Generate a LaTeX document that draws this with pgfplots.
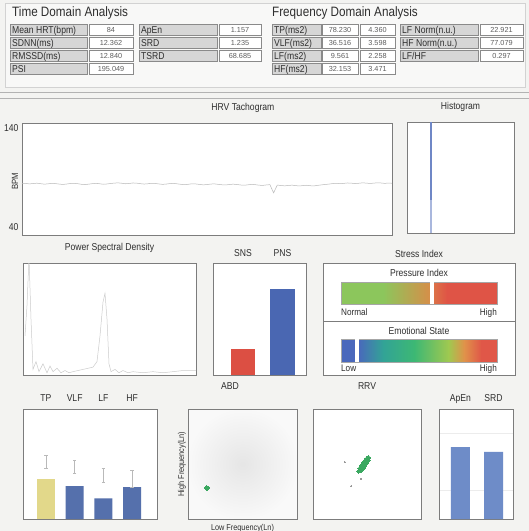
\documentclass[border=0pt]{standalone}
\usepackage{fontspec}
\setmainfont{Liberation Sans}
\newfontfamily\condfont{Liberation Sans}[FakeStretch=0.86]
\usepackage{pgfplots}
\pgfplotsset{compat=1.18}

\definecolor{bgc}{HTML}{F3F3F1}
\definecolor{panel}{HTML}{F8F8F7}
\definecolor{cellgray}{HTML}{D6D6D6}
\definecolor{cellborder}{HTML}{8A8A8A}
\definecolor{axisgray}{HTML}{7C7C7C}
\definecolor{txt}{HTML}{2E2E2E}
\definecolor{valtxt}{HTML}{5E5E5E}
\definecolor{snsred}{HTML}{DC4F43}
\definecolor{pnsblue}{HTML}{4A67B2}
\definecolor{barblue}{HTML}{5570AC}
\definecolor{baryellow}{HTML}{E2D88A}
\definecolor{lightblue}{HTML}{6E8CC8}
\definecolor{histblue}{HTML}{6F87C6}
\definecolor{dotgreen}{HTML}{3AA860}
\definecolor{pgreen}{HTML}{8CC65C}
\definecolor{porange}{HTML}{D98C48}
\definecolor{pred}{HTML}{DF5446}
\definecolor{eblue}{HTML}{4A68BC}
\definecolor{eteal}{HTML}{32A396}
\definecolor{egreen}{HTML}{3DB874}
\definecolor{eyg}{HTML}{A0C850}
\definecolor{eorange}{HTML}{E0924A}
\definecolor{ered}{HTML}{E05748}

\newcommand{\labfont}{\condfont\fontsize{10}{12}\selectfont}
\newcommand{\valfont}{\fontsize{7.3}{9}\selectfont}
\newcommand{\titfont}{\condfont\fontsize{10}{12}\selectfont}
\newcommand{\bigfont}{\condfont\fontsize{13.6}{15}\selectfont}
\newcommand{\smfont}{\condfont\fontsize{9.5}{11}\selectfont}

\newcommand{\lab}[5]{\draw[cellborder, fill=cellgray, line width=0.6pt] (#1,#2) rectangle (#3,#4);
 \node[anchor=base west, inner sep=0pt, font=\labfont, text=txt] at ({#1+2},{(#2+#4)/2+3.5}) {#5};}
\newcommand{\val}[5]{\draw[cellborder, fill=white, line width=0.6pt] (#1,#2) rectangle (#3,#4);
 \node[anchor=base, inner sep=0pt, font=\valfont, text=valtxt] at ({(#1+#3)/2},{(#2+#4)/2+2.6}) {#5};}

\pgfplotsset{
 panel/.style={scale only axis, anchor=north west,
   axis line style={draw=axisgray, line width=0.6pt},
   xtick=\empty, ytick=\empty, major tick length=0pt,
   axis background/.style={fill=white},
   title style={font=\titfont, text=txt, anchor=base, at={(0.5,1)}, yshift=6.4pt, inner sep=0pt},
   ticklabel style={font=\titfont, text=txt},
   /pgf/number format/assume math mode=true},
}

\begin{document}
\begin{tikzpicture}[x=1pt,y=-1pt]
\useasboundingbox (0,0) rectangle (529,531);
\fill[bgc] (0,0) rectangle (529,531);
% top panel
\draw[gray!35, fill=panel] (5,3) rectangle (525,87);
\draw[gray!60, line width=0.6pt] (0,92) -- (529,92);
\draw[gray!60, line width=0.6pt] (0,98) -- (529,98);

\node[anchor=base west, inner sep=0pt, font=\bigfont, text=txt] at (12,16) {Time Domain Analysis};
\node[anchor=base west, inner sep=0pt, font=\bigfont, text=txt] at (272,16) {Frequency Domain Analysis};

% time domain table
\lab{10}{24}{87}{35}{Mean HRT(bpm)} \val{89}{24}{133}{35}{84}
\lab{10}{37}{87}{48}{SDNN(ms)} \val{89}{37}{133}{48}{12.362}
\lab{10}{50}{87}{61}{RMSSD(ms)} \val{89}{50}{133}{61}{12.840}
\lab{10}{63}{87}{74}{PSI} \val{89}{63}{133}{74}{195.049}
\lab{139}{24}{217}{35}{ApEn} \val{219}{24}{261}{35}{1.157}
\lab{139}{37}{217}{48}{SRD} \val{219}{37}{261}{48}{1.235}
\lab{139}{50}{217}{61}{TSRD} \val{219}{50}{261}{61}{68.685}
% frequency domain table
\lab{272}{24}{321}{35}{TP(ms2)} \val{322}{24}{358}{35}{78.230} \val{360}{24}{395}{35}{4.360}
\lab{272}{37}{321}{48}{VLF(ms2)} \val{322}{37}{358}{48}{36.516} \val{360}{37}{395}{48}{3.598}
\lab{272}{50}{321}{61}{LF(ms2)} \val{322}{50}{358}{61}{9.561} \val{360}{50}{395}{61}{2.258}
\lab{272}{63}{321}{74}{HF(ms2)} \val{322}{63}{358}{74}{32.153} \val{360}{63}{395}{74}{3.471}
\lab{400}{24}{478}{35}{LF Norm(n.u.)} \val{480}{24}{523}{35}{22.921}
\lab{400}{37}{478}{48}{HF Norm(n.u.)} \val{480}{37}{523}{48}{77.079}
\lab{400}{50}{478}{61}{LF/HF} \val{480}{50}{523}{61}{0.297}

\coordinate (A) at (22,123);
\coordinate (H) at (407,122);
\coordinate (P) at (23,263);
\coordinate (S) at (213,263);
\coordinate (PI) at (341,282);
\coordinate (EI) at (341,339);
\coordinate (T) at (23,409);
\coordinate (B) at (188,409);
\coordinate (R) at (313,409);
\coordinate (E) at (439,409);

% HRV tachogram
\begin{axis}[panel, at={(A)}, width=370pt, height=112pt, xmin=0, xmax=100, ymin=32, ymax=145,
  ytick={40,140}, yticklabels={40,140}, title={HRV Tachogram}, title style={at={(0.597,1)}},
  ylabel={BPM}, ylabel style={font=\condfont\fontsize{9}{10}\selectfont, text=txt, at={(axis description cs:-0.019,0.48)}, anchor=center}]
\addplot[gray!55, line width=0.5pt] table[x expr=\coordindex, y index=0, header=false] {
84.2
84.0
83.6
83.9
84.3
83.8
83.3
83.6
84.1
83.9
83.4
83.0
83.4
83.9
84.2
83.8
83.2
82.9
83.3
83.8
84.1
83.7
83.2
83.5
84.0
84.4
84.6
84.2
83.7
84.0
84.5
84.3
83.8
83.4
83.7
84.2
84.0
83.5
83.1
83.4
83.9
84.1
83.6
83.1
82.8
83.2
83.7
83.5
83.0
82.6
82.9
83.4
83.6
83.1
82.7
82.5
82.9
83.3
83.0
82.5
82.2
82.6
83.1
82.8
82.3
82.0
82.5
82.8
74.5
82.4
81.9
81.6
82.0
82.3
81.8
81.5
81.9
82.2
81.7
81.6
82.1
82.6
83.0
83.4
83.9
84.2
83.8
84.1
84.5
84.3
83.9
84.2
84.6
84.4
84.0
84.3
84.7
84.5
84.1
84.4
84.2
};
\end{axis}

% Histogram
\begin{axis}[panel, at={(H)}, width=107pt, height=111pt, xmin=60, xmax=167, ymin=0, ymax=100, title={Histogram}]
\addplot[ycomb, histblue, line width=1.2pt, mark=none] coordinates {(84,100)};
\addplot[ycomb, histblue!60, line width=2pt, mark=none] coordinates {(84.2,30)};
\end{axis}

% Power spectral density
\begin{axis}[panel, at={(P)}, width=173pt, height=112pt, xmin=0, xmax=173, ymin=0, ymax=1, title={Power Spectral Density}]
\addplot[gray!40, line width=0.5pt] coordinates {
(2,0.35) (4,0.62) (6,1.05) (8,0.5) (10,0.05) (13,0.12) (16,0.03) (20,0.10) (24,0.02) (27,0.08)
(30,0.03) (34,0.06) (38,0.02) (42,0.04) (46,0.02) (50,0.03) (55,0.04) (60,0.05) (65,0.06) (70,0.07)
(74,0.12) (77,0.35) (80,0.65) (82,0.73) (84,0.5) (86,0.1) (88,0.03) (92,0.05) (96,0.02) (100,0.04)
(105,0.02) (110,0.03) (120,0.02) (130,0.03) (140,0.02) (150,0.03) (160,0.04) (173,0.04)};
\end{axis}

% SNS / PNS
\begin{axis}[panel, at={(S)}, width=93pt, height=112pt, xmin=0.24, xmax=2.594, ymin=0, ymax=100,
  xtick={1,2}, xticklabels={SNS,PNS}, xticklabel pos=upper, xticklabel style={anchor=base, yshift=6.4pt, inner sep=0pt}]
\addplot[ybar, bar width=24pt, fill=snsred, draw=none] coordinates {(1,22.921)};
\addplot[ybar, bar width=25pt, fill=pnsblue, draw=none] coordinates {(2,77.079)};
\end{axis}

% Stress index panel
\draw[axisgray, line width=0.6pt, fill=white] (323,263) rectangle (515,375);
\draw[axisgray, line width=0.6pt] (323,321) -- (515,321);
\node[anchor=base, inner sep=0pt, font=\titfont, text=txt] at (419,257.4) {Stress Index};
\node[anchor=base, inner sep=0pt, font=\titfont, text=txt] at (419,276.6) {Pressure Index};
\node[anchor=base, inner sep=0pt, font=\titfont, text=txt] at (419,334) {Emotional State};
\node[anchor=base west, inner sep=0pt, font=\smfont, text=txt] at (341,315.5) {Normal};
\node[anchor=base east, inner sep=0pt, font=\smfont, text=txt] at (497,315.5) {High};
\node[anchor=base west, inner sep=0pt, font=\smfont, text=txt] at (341,371.5) {Low};
\node[anchor=base east, inner sep=0pt, font=\smfont, text=txt] at (497,371.5) {High};

\begin{axis}[scale only axis, anchor=north west, at={(PI)}, width=156pt, height=22pt, hide axis,
  xmin=0, xmax=100, ymin=0, ymax=1, clip=false]
\fill[pgreen] (axis cs:0,0) rectangle (axis cs:27,1);
\fill[left color=pgreen, right color=porange] (axis cs:27,0) rectangle (axis cs:58.3,1);
\fill[left color=porange!60!pred, right color=pred] (axis cs:58.3,0) rectangle (axis cs:68,1);
\fill[pred] (axis cs:68,0) rectangle (axis cs:100,1);
\draw[gray!70, line width=0.5pt] (axis cs:0,0) rectangle (axis cs:100,1);
\addplot[ybar, bar width=4pt, fill=white, draw=none] coordinates {(58.3,1)};
\end{axis}

\begin{axis}[scale only axis, anchor=north west, at={(EI)}, width=156pt, height=23pt, hide axis,
  xmin=0, xmax=100, ymin=0, ymax=1, clip=false]
\fill[eblue] (axis cs:0,0) rectangle (axis cs:11,1);
\fill[left color=eblue, right color=eteal] (axis cs:11,0) rectangle (axis cs:27,1);
\fill[left color=eteal, right color=egreen] (axis cs:27,0) rectangle (axis cs:47,1);
\fill[left color=egreen, right color=eyg] (axis cs:47,0) rectangle (axis cs:69,1);
\fill[left color=eyg, right color=eorange] (axis cs:69,0) rectangle (axis cs:79,1);
\fill[left color=eorange, right color=ered] (axis cs:79,0) rectangle (axis cs:90,1);
\fill[ered] (axis cs:90,0) rectangle (axis cs:100,1);
\draw[gray!70, line width=0.5pt] (axis cs:0,0) rectangle (axis cs:100,1);
\addplot[ybar, bar width=4pt, fill=white, draw=none] coordinates {(10,1)};
\end{axis}

% TP VLF LF HF
\begin{axis}[panel, at={(T)}, width=134pt, height=110pt, xmin=0.2, xmax=4.87, ymin=0, ymax=12,
  xtick={1,2,3,4}, xticklabels={TP,VLF,LF,HF}, xticklabel pos=upper, xticklabel style={anchor=base, yshift=7.4pt, inner sep=0pt}]
\addplot[ybar, bar width=18pt, fill=baryellow, draw=none] coordinates {(1,4.360)};
\addplot[ybar, bar width=18pt, fill=barblue, draw=none] coordinates {(2,3.598) (3,2.258) (4,3.471)};
\addplot[draw=none, mark=none, forget plot, error bars/.cd, y dir=both, y explicit,
  error bar style={draw=gray!55, line width=0.5pt}, error mark options={draw=gray!55, mark size=1.6pt, rotate=90, line width=0.5pt}]
  coordinates {(1,6.27) +- (0,0.71) (2,5.73) +- (0,0.71) (3,4.80) +- (0,0.76) (4,4.42) +- (0,0.93)};
\end{axis}

% ABD
\begin{axis}[panel, at={(B)}, width=109pt, height=110pt, xmin=0, xmax=10, ymin=0, ymax=10,
  title={ABD}, title style={at={(0.385,1)}, yshift=7.4pt},
  axis background/.style={inner color=gray!20, outer color=gray!5},
  xlabel={Low Frequency(Ln)}, ylabel={High Frequency(Ln)},
  xlabel style={font=\condfont\fontsize{8.5}{10}\selectfont, text=txt, at={(axis description cs:0.5,-0.1)}, anchor=base},
  ylabel style={font=\condfont\fontsize{8.5}{10}\selectfont, text=txt, at={(axis description cs:-0.055,0.5)}, anchor=center}]
\addplot[dotgreen, only marks, mark=*, mark size=2.2pt, mark options={fill=dotgreen, draw=dotgreen, line width=0pt}] coordinates {(1.74,2.82)};
\end{axis}

% RRV
\begin{axis}[panel, at={(R)}, width=108pt, height=110pt, xmin=0, xmax=10, ymin=0, ymax=10,
  title={RRV}, title style={yshift=7.4pt}]
\addplot[dotgreen, only marks, mark=*, mark size=1.6pt, mark options={fill=dotgreen, draw=dotgreen, line width=0pt}] coordinates {
(4.20,4.30)(4.25,4.40)(4.30,4.35)(4.32,4.50)(4.38,4.45)(4.40,4.58)(4.45,4.52)(4.47,4.65)(4.50,4.60)
(4.52,4.72)(4.55,4.68)(4.58,4.80)(4.60,4.75)(4.62,4.88)(4.65,4.82)(4.67,4.95)(4.70,4.90)(4.72,5.02)
(4.75,4.97)(4.77,5.10)(4.80,5.05)(4.82,5.17)(4.85,5.12)(4.87,5.25)(4.90,5.20)(4.92,5.32)(4.95,5.27)
(4.98,5.38)(5.00,5.33)(5.03,5.45)(5.06,5.40)(5.10,5.50)(5.14,5.52)(5.18,5.58)(4.35,4.62)(4.55,4.55)
(4.62,4.98)(4.80,4.85)(4.85,5.32)(5.00,5.15)(4.45,4.40)(4.70,5.12)(4.92,5.08)(5.08,5.30)
(4.42,4.80)(4.55,4.95)(4.68,5.15)(4.80,5.30)(4.95,5.45)(4.50,4.40)(4.68,4.62)(4.85,4.88)(5.02,5.10)(5.15,5.32)
(4.30,4.62)(4.48,4.85)(4.62,5.05)(4.78,5.25)(4.95,5.50)(5.12,5.62)};
\addplot[gray!80, only marks, mark=*, mark size=0.5pt, mark options={fill=gray!80, draw=gray!80, line width=0pt}] coordinates {
(2.96,5.18) (4.44,3.64) (3.52,3.0)};
\end{axis}

% ApEn SRD
\begin{axis}[panel, at={(E)}, width=74pt, height=110pt, xmin=0.35, xmax=2.59, ymin=0, ymax=1.77,
  xtick={1,2}, xticklabels={ApEn,SRD}, xticklabel pos=upper, xticklabel style={anchor=base, yshift=7.4pt, inner sep=0pt},
  ytick={0.467,1.384}, yticklabels={{},{}}, ymajorgrids, grid style={gray!15, line width=0.5pt}]
\addplot[ybar, bar width=19pt, fill=lightblue, draw=none] coordinates {(1,1.157) (2,1.08)};
\end{axis}
\end{tikzpicture}
\end{document}
